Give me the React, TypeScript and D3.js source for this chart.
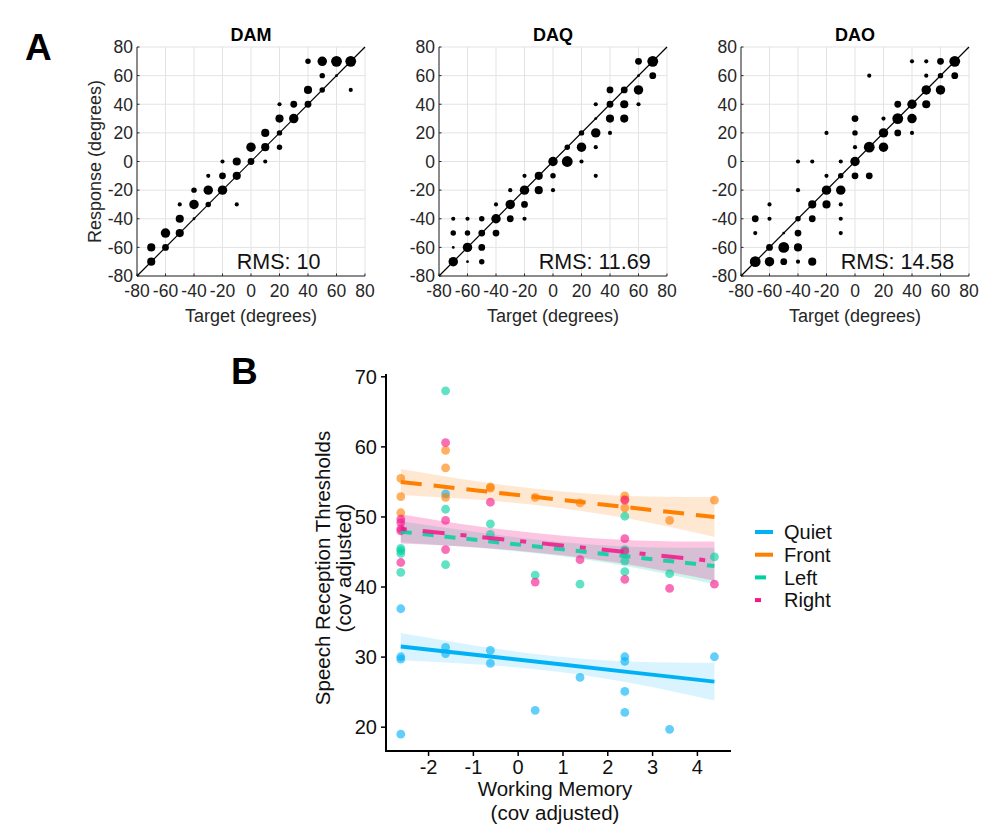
import React from 'react';
import * as d3 from 'd3';

// Panel A: localisation dots [target, response, count]
const damDots: number[][] = [
  [-70, -60, 5], [-70, -70, 5], [-60, -50, 6], [-60, -60, 4], [-50, -30, 2], [-50, -40, 5],
  [-50, -50, 5], [-40, -20, 3], [-40, -30, 6], [-40, -40, 1], [-30, -10, 2], [-30, -20, 6],
  [-30, -30, 3], [-20, 0, 2], [-20, -10, 4], [-20, -20, 6], [-10, 0, 5], [-10, -10, 5],
  [-10, -30, 2], [0, 10, 6], [0, 0, 4], [10, 20, 5], [10, 10, 5], [10, 0, 2], [20, 40, 2],
  [20, 30, 5], [20, 20, 3], [20, 10, 3], [30, 40, 4], [30, 30, 6], [40, 70, 3], [40, 50, 5],
  [40, 40, 4], [50, 70, 6], [50, 60, 3], [50, 50, 3], [60, 70, 7], [60, 60, 1], [70, 70, 7],
  [70, 50, 2],
];

const daqDots: number[][] = [
  [-70, -40, 2], [-70, -50, 3], [-70, -60, 1], [-70, -70, 6], [-60, -40, 2], [-60, -50, 3],
  [-60, -60, 6], [-60, -70, 1], [-50, -40, 3], [-50, -50, 4], [-50, -60, 4], [-50, -70, 3],
  [-40, -30, 2], [-40, -40, 6], [-40, -50, 4], [-30, -20, 2], [-30, -30, 6], [-30, -40, 4],
  [-20, -10, 2], [-20, -20, 6], [-20, -30, 4], [-20, -40, 2], [-10, -10, 5], [-10, -20, 5],
  [0, 0, 6], [0, -10, 3], [0, -20, 2], [10, 10, 3], [10, 0, 7], [20, 20, 3], [20, 10, 6],
  [20, 0, 2], [30, 40, 2], [30, 30, 1], [30, 20, 6], [30, 10, 2], [30, -10, 2], [40, 50, 4],
  [40, 40, 4], [40, 30, 5], [40, 20, 2], [50, 50, 4], [50, 40, 5], [50, 30, 5], [60, 70, 4],
  [60, 60, 1], [60, 50, 6], [60, 40, 2], [70, 70, 7], [70, 60, 4],
];

const daoDots: number[][] = [
  [-70, -40, 4], [-70, -50, 2], [-70, -70, 7], [-60, -30, 2], [-60, -40, 2], [-60, -60, 4],
  [-60, -70, 6], [-50, -50, 1], [-50, -60, 7], [-50, -70, 4], [-40, 0, 2], [-40, -20, 2],
  [-40, -40, 3], [-40, -50, 4], [-40, -60, 5], [-40, -70, 2], [-30, 0, 2], [-30, -30, 5],
  [-30, -40, 4], [-30, -70, 5], [-20, 20, 2], [-20, -10, 2], [-20, -20, 6], [-20, -30, 5],
  [-10, 0, 2], [-10, -10, 3], [-10, -20, 6], [-10, -30, 2], [-10, -40, 2], [-10, -50, 2],
  [0, 30, 4], [0, 20, 3], [0, 10, 2], [0, 0, 6], [0, -10, 4], [10, 60, 2], [10, 10, 7],
  [10, -10, 4], [20, 30, 2], [20, 20, 6], [20, 10, 6], [30, 40, 4], [30, 30, 7], [30, 20, 4],
  [40, 70, 2], [40, 40, 6], [40, 30, 6], [40, 20, 2], [50, 70, 2], [50, 60, 2], [50, 50, 6],
  [50, 40, 5], [60, 70, 4], [60, 60, 3], [60, 50, 6], [70, 70, 7], [70, 60, 4],
];

const panelTitles = ['DAM', 'DAQ', 'DAO'];
const rmsValues = ['10', '11.69', '14.58'];
const degreeTicks = [-80, -60, -40, -20, 0, 20, 40, 60, 80];

// Panel B: [working memory, SRT]
const quietPoints: number[][] = [
  [-2.62, 36.9], [-2.62, 30.05], [-2.62, 29.7], [-2.62, 19.0], [-1.62, 31.4], [-1.62, 30.5],
  [-1.62, 53.3], [-0.62, 30.96], [-0.62, 29.1], [0.38, 22.4], [1.38, 27.1], [2.38, 30.05],
  [2.38, 29.4], [2.38, 25.1], [2.38, 22.1], [3.38, 19.7], [4.38, 30.05],
];
const frontPoints: number[][] = [
  [-2.62, 55.5], [-2.62, 52.9], [-2.62, 50.6], [-1.62, 59.5], [-1.62, 57.0], [-1.62, 52.8],
  [-0.62, 54.3], [-0.62, 54.1], [0.38, 52.8], [1.38, 52.0], [2.38, 53.0], [2.38, 52.5],
  [2.38, 51.3], [3.38, 49.5], [4.38, 52.4],
];
const leftPoints: number[][] = [
  [-2.62, 45.5], [-2.62, 45.2], [-2.62, 44.8], [-2.62, 42.1], [-1.62, 68.0], [-1.62, 51.1],
  [-1.62, 43.2], [-0.62, 49.0], [-0.62, 47.5], [0.38, 41.7], [1.38, 40.4], [2.38, 50.1],
  [2.38, 45.35], [2.38, 43.7], [2.38, 42.2], [3.38, 41.9], [4.38, 44.3],
];
const rightPoints: number[][] = [
  [-2.62, 49.7], [-2.62, 49.2], [-2.62, 48.3], [-2.62, 48.0], [-2.62, 43.5], [-1.62, 60.6],
  [-1.62, 49.5], [-1.62, 45.35], [-0.62, 52.1], [0.38, 40.7], [1.38, 43.9], [2.38, 52.4],
  [2.38, 46.9], [2.38, 45.1], [2.38, 41.1], [3.38, 39.8], [4.38, 40.4],
];

// fitted lines and confidence bands, read at these working-memory values
const fitX = [-2.62, -0.87, 0.88, 2.63, 4.38];
const quietFit = [31.5, 30.25, 29.0, 27.75, 26.5];
const quietUpper = [33.45, 31.55, 30.1, 29.35, 29.2];
const quietLower = [29.55, 28.95, 27.9, 26.15, 23.8];
const frontFit = [55.0, 53.75, 52.5, 51.25, 50.0];
const frontUpper = [56.85, 55.05, 53.7, 52.95, 52.85];
const frontLower = [53.15, 52.45, 51.3, 49.55, 47.15];
const leftFit = [47.9, 46.675, 45.45, 44.225, 43.0];
const leftUpper = [49.4, 47.775, 46.45, 45.725, 45.6];
const leftLower = [46.4, 45.575, 44.45, 42.725, 40.4];
const rightFit = [48.3, 47.15, 46.0, 44.85, 43.7];
const rightUpper = [50.4, 48.65, 47.4, 46.65, 46.5];
const rightLower = [46.2, 45.65, 44.6, 43.05, 40.9];

const conditions = ['Quiet', 'Front', 'Left', 'Right'];
const wmTicks = [-2, -1, 0, 1, 2, 3, 4];
const srtTicks = [20, 30, 40, 50, 60, 70];

const FONT = "'Liberation Sans', Arial, Helvetica, sans-serif";
const AXIS_GREY = '#262626';
const GRID = '#e3e3e3';

const colors: Record<string, string> = {
  Quiet: '#00b2f5',
  Front: '#ff7f00',
  Left: '#00d1a0',
  Right: '#f5168a',
};
const dashes: Record<string, string> = {
  Quiet: 'none',
  Front: '21,12',
  Left: '11,11',
  Right: '6,16,22,16',
};

type ScatterProps = {
  title: string;
  dots: number[][];
  rms: string;
  left: number;
  showYTitle: boolean;
};

const ScatterPanel = ({ title, dots, rms, left, showYTitle }: ScatterProps) => {
  const top = 47;
  const bottom = 276;
  const w = 228;
  const x = d3.scaleLinear().domain([-80, 80]).range([left, left + w]);
  const y = d3.scaleLinear().domain([-80, 80]).range([bottom, top]);
  const r = d3.scaleLinear().domain([1, 7]).range([1.4, 5.4]);

  return (
    <g fontFamily={FONT}>
      {/* grid */}
      {degreeTicks.map((t) => (
        <g key={'g' + t}>
          <line x1={x(t)} x2={x(t)} y1={top} y2={bottom} stroke={GRID} strokeWidth={1} />
          <line x1={left} x2={left + w} y1={y(t)} y2={y(t)} stroke={GRID} strokeWidth={1} />
        </g>
      ))}
      {/* axes */}
      <line x1={left} x2={left} y1={top} y2={bottom} stroke={AXIS_GREY} strokeWidth={1} />
      <line x1={left} x2={left + w} y1={bottom} y2={bottom} stroke={AXIS_GREY} strokeWidth={1} />
      {degreeTicks.map((t) => (
        <g key={'t' + t}>
          <line x1={x(t)} x2={x(t)} y1={bottom} y2={bottom - 2.5} stroke={AXIS_GREY} />
          <line x1={left} x2={left + 2.5} y1={y(t)} y2={y(t)} stroke={AXIS_GREY} />
          <text x={x(t)} y={bottom + 20.5} textAnchor="middle" fontSize={17.5} fill={AXIS_GREY}>
            {t}
          </text>
          <text x={left - 4} y={y(t)} dy="0.36em" textAnchor="end" fontSize={17.5} fill={AXIS_GREY}>
            {t}
          </text>
        </g>
      ))}
      {/* identity line */}
      <line x1={x(-80)} y1={y(-80)} x2={x(80)} y2={y(80)} stroke="#000" strokeWidth={1.2} />
      {dots.map((d, i) => (
        <circle key={i} cx={x(d[0])} cy={y(d[1])} r={r(d[2])} fill="#000" />
      ))}
      <text x={x(-10)} y={y(-70)} dy="0.36em" fontSize={21.5} fill="#111">
        RMS: {rms}
      </text>
      <text x={left + w / 2} y={41} textAnchor="middle" fontSize={18} fontWeight="bold" fill="#000">
        {title}
      </text>
      <text x={left + w / 2} y={322} textAnchor="middle" fontSize={18} fill={AXIS_GREY}>
        Target (degrees)
      </text>
      {showYTitle && (
        <text
          transform={`translate(${101},${(top + bottom) / 2}) rotate(-90)`}
          textAnchor="middle"
          fontSize={18}
          fill={AXIS_GREY}
        >
          Response (degrees)
        </text>
      )}
    </g>
  );
};

const RegressionPanel = () => {
  const x = d3.scaleLinear().domain([-2.95, 4.75]).range([386, 731]);
  const y = d3.scaleLinear().domain([16.6, 70.4]).range([751, 374]);

  const series = [
    { name: 'Quiet', pts: quietPoints, fit: quietFit, lo: quietLower, hi: quietUpper, band: 0.15 },
    { name: 'Front', pts: frontPoints, fit: frontFit, lo: frontLower, hi: frontUpper, band: 0.18 },
    { name: 'Left', pts: leftPoints, fit: leftFit, lo: leftLower, hi: leftUpper, band: 0.2 },
    { name: 'Right', pts: rightPoints, fit: rightFit, lo: rightLower, hi: rightUpper, band: 0.25 },
  ];

  const area = (lo: number[], hi: number[]) =>
    d3
      .area<number>()
      .x((d) => x(d))
      .y0((_, i) => y(lo[i]))
      .y1((_, i) => y(hi[i]))
      .curve(d3.curveNatural)(fitX) ?? '';

  const line = (fit: number[]) =>
    d3
      .line<number>()
      .x((d) => x(d))
      .y((_, i) => y(fit[i]))(fitX) ?? '';

  return (
    <g fontFamily={FONT}>
      {series.map((s) => (
        <path key={'b' + s.name} d={area(s.lo, s.hi)} fill={colors[s.name]} fillOpacity={s.band} />
      ))}
      {series.map((s) => (
        <g key={'p' + s.name}>
          {s.pts.map((p, i) => (
            <circle key={i} cx={x(p[0])} cy={y(p[1])} r={4.4} fill={colors[s.name]} fillOpacity={0.62} />
          ))}
        </g>
      ))}
      {series.map((s) => (
        <path
          key={'l' + s.name}
          d={line(s.fit)}
          fill="none"
          stroke={colors[s.name]}
          strokeOpacity={s.name === 'Quiet' || s.name === 'Front' ? 1 : 0.85}
          strokeWidth={4}
          strokeDasharray={dashes[s.name]}
        />
      ))}
      {/* axes */}
      <line x1={386} x2={386} y1={374} y2={752} stroke="#000" strokeWidth={2} />
      <line x1={385} x2={731} y1={751} y2={751} stroke="#000" strokeWidth={2} />
      {srtTicks.map((t) => (
        <g key={'y' + t}>
          <line x1={381} x2={386} y1={y(t)} y2={y(t)} stroke="#000" strokeWidth={1.5} />
          <text x={377} y={y(t)} dy="0.36em" textAnchor="end" fontSize={20} fill="#111">
            {t}
          </text>
        </g>
      ))}
      {wmTicks.map((t) => (
        <g key={'x' + t}>
          <line x1={x(t)} x2={x(t)} y1={751} y2={756} stroke="#000" strokeWidth={1.5} />
          <text x={x(t)} y={774} textAnchor="middle" fontSize={20} fill="#111">
            {t}
          </text>
        </g>
      ))}
      <text x={555} y={796} textAnchor="middle" fontSize={20.5} fill="#111">
        Working Memory
      </text>
      <text x={555} y={820} textAnchor="middle" fontSize={20.5} fill="#111">
        (cov adjusted)
      </text>
      <text transform="translate(330,568) rotate(-90)" textAnchor="middle" fontSize={20.5} fill="#111">
        Speech Reception Thresholds
      </text>
      <text transform="translate(351,568) rotate(-90)" textAnchor="middle" fontSize={20.5} fill="#111">
        (cov adjusted)
      </text>
      {/* legend */}
      {conditions.map((c, i) => (
        <g key={'lg' + c} transform={`translate(0,${532 + i * 22.7})`}>
          <line
            x1={755}
            x2={773}
            y1={0}
            y2={0}
            stroke={colors[c]}
            strokeWidth={4}
            strokeDasharray={dashes[c]}
          />
          <text x={784} y={0} dy="0.36em" fontSize={20} fill="#111">
            {c}
          </text>
        </g>
      ))}
    </g>
  );
};

const App = () => {
  const lefts = [137, 439, 741];
  const sets = [damDots, daqDots, daoDots];
  return (
    <div style={{ position: 'absolute', left: 0, top: 0 }}>
      <svg width={987} height={833} style={{ display: 'block', background: '#fff' }}>
        <rect width={987} height={833} fill="#fff" />
        <text x={25} y={60} fontFamily={FONT} fontSize={37} fontWeight="bold" fill="#000">
          A
        </text>
        <text x={231} y={384} fontFamily={FONT} fontSize={37} fontWeight="bold" fill="#000">
          B
        </text>
        {panelTitles.map((t, i) => (
          <ScatterPanel
            key={t}
            title={t}
            dots={sets[i]}
            rms={rmsValues[i]}
            left={lefts[i]}
            showYTitle={i === 0}
          />
        ))}
        <RegressionPanel />
      </svg>
    </div>
  );
};

export default App;
